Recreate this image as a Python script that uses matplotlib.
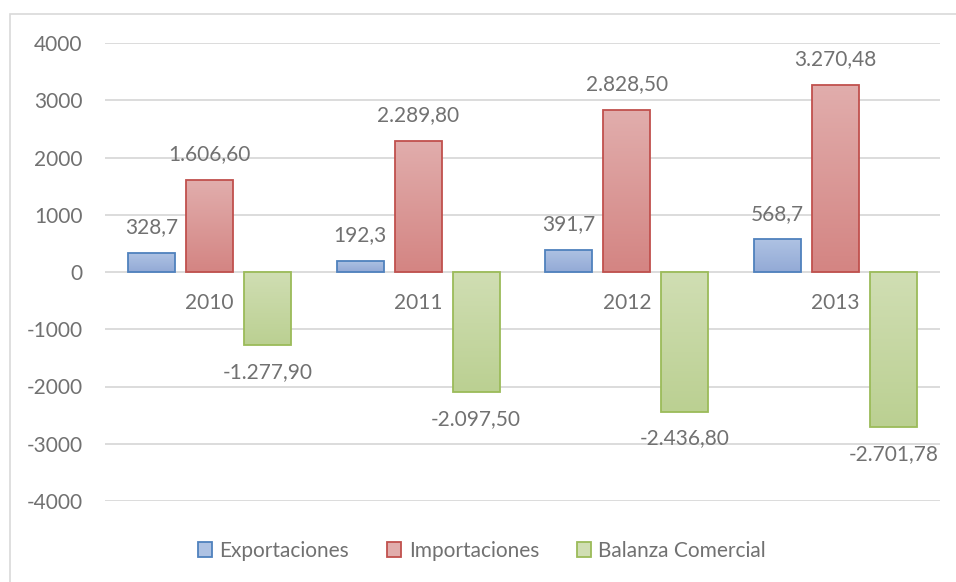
import numpy as np
import matplotlib.pyplot as plt
from matplotlib.patches import Rectangle
from matplotlib.colors import LinearSegmentedColormap

plt.rcParams['font.family'] = ['Lato', 'DejaVu Sans']
plt.rcParams['axes.unicode_minus'] = False

# datos
anios = ['2010', '2011', '2012', '2013']
exportaciones = [328.7, 192.3, 391.7, 568.7]
importaciones = [1606.60, 2289.80, 2828.50, 3270.48]
balanza = [-1277.90, -2097.50, -2436.80, -2701.78]
series_nombres = ['Exportaciones', 'Importaciones', 'Balanza Comercial']

# estilo tipo Excel: (arriba, abajo, borde)
estilos = [('#aec2e3', '#93aad6', '#4f81bd'),
           ('#e1adac', '#d48583', '#c0504d'),
           ('#d0deb3', '#bbd092', '#9bbb59')]
texto = '#717171'
grid = '#d9d9d9'


def fmt_es(v, dec):
    s = f'{v:,.{dec}f}'
    return s.replace(',', 'X').replace('.', ',').replace('X', '.')


W, H = 956, 582
fig = plt.figure(figsize=(W / 100, H / 100), dpi=100)
ax = fig.add_axes([105 / W, 1 - 501 / H, (940 - 105) / W, (501 - 43) / H])

# borde del area del grafico
fig.patches.append(Rectangle((9.5 / W, -0.1), 2, 1.1 - 14 / H, transform=fig.transFigure,
                             fill=False, edgecolor=grid, linewidth=1.2))

x = np.arange(len(anios))
ancho = 0.225
paso = 0.278
datos = [exportaciones, importaciones, balanza]
decs = [1, 2, 2]

ax.set_xlim(-0.5, len(anios) - 0.5)
ax.set_ylim(-4000, 4000)

for k, (vals, est) in enumerate(zip(datos, estilos)):
    cmap = LinearSegmentedColormap.from_list('g%d' % k, [est[1], est[0]])
    barras = ax.bar(x + (k - 1) * paso, vals, ancho, facecolor='none',
                    edgecolor=est[2], linewidth=1.3, zorder=4, label=series_nombres[k])
    for b, v in zip(barras, vals):
        x0, y0 = b.get_x(), b.get_y()
        w, h = b.get_width(), b.get_height()
        ylo, yhi = min(y0, y0 + h), max(y0, y0 + h)
        grad = np.linspace(0, 1, 50).reshape(-1, 1)
        if v < 0:
            grad = np.linspace(0.45, 1, 50).reshape(-1, 1)
        im = ax.imshow(grad, cmap=cmap, origin='lower', aspect='auto',
                       extent=[x0, x0 + w, ylo, yhi], zorder=3, interpolation='bilinear')
        im.set_clip_path(b)
        off = 18.5 if v >= 0 else -19.5
        ax.annotate(fmt_es(v, decs[k]), (x0 + w / 2, v), xytext=(0, off),
                    textcoords='offset points', ha='center', va='center',
                    fontsize=15, color=texto, zorder=5)

ax.set_xlim(-0.5, len(anios) - 0.5)
ax.set_ylim(-4000, 4000)

# etiquetas de categoria justo debajo del cero
for i, a in enumerate(anios):
    ax.annotate(a, (i, 0), xytext=(0, -22.5), textcoords='offset points',
                ha='center', va='center', fontsize=15, color=texto, zorder=5)

ax.set_yticks(np.arange(-4000, 4001, 1000))
ax.set_xticks([])
ax.tick_params(axis='y', length=0, pad=16, labelsize=15, labelcolor=texto)
ax.grid(axis='y', color=grid, linewidth=1.3, zorder=0)
ax.set_axisbelow(True)
for s in ax.spines.values():
    s.set_visible(False)

handles = [Rectangle((0, 0), 1, 1, facecolor=e[0], edgecolor=e[2], linewidth=1.3) for e in estilos]
leg = fig.legend(handles, series_nombres, loc='center', bbox_to_anchor=(482 / W, 1 - 551 / H),
                 ncol=3, frameon=False, fontsize=15, handlelength=0.7, handleheight=0.7,
                 handletextpad=0.35, columnspacing=1.8)
for t in leg.get_texts():
    t.set_color(texto)

fig.savefig('out.png', dpi=100)
